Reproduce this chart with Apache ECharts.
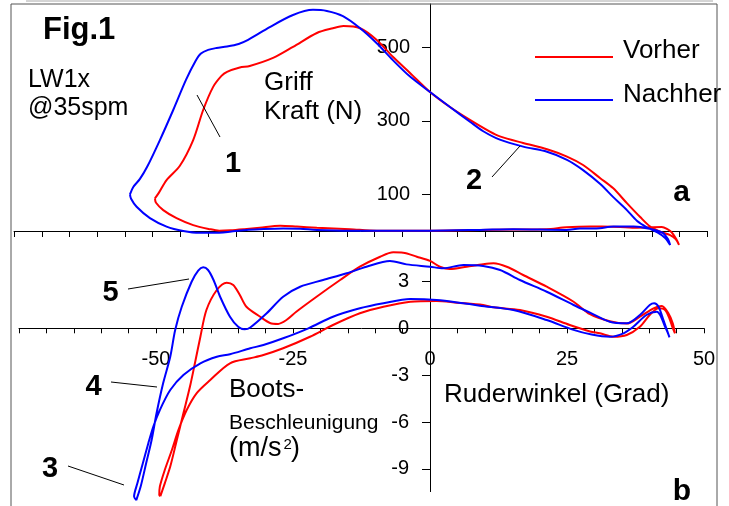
<!DOCTYPE html>
<html>
<head>
<meta charset="utf-8">
<script src="https://cdn.jsdelivr.net/npm/echarts@6.0.0/dist/echarts.min.js"></script>
<style>
html,body{margin:0;padding:0;background:#fff;}
#chart{width:729px;height:506px;}
</style>
</head>
<body>
<div id="chart"></div>
<script>
// Griff-Kraft (N) vs Ruderwinkel (Grad)
const forceVorher = [
[-49.6,89],[-48.9,104],[-47.5,139],[-45.1,178],[-42.7,248],[-40.9,330],[-39.1,393],[-37.6,423],[-36.6,434],[-34.3,446],[-32.5,450],[-28.3,472],[-24.7,502],[-20.4,540],[-17.5,553],[-15.6,559],[-12.6,553],[-9.6,521],[-6.7,475],[-3.6,431],[0,379],[3.6,338],[7.2,303],[10.8,271],[12.6,258],[16.8,240],[21.1,223],[24.7,203],[27.6,180],[30.7,144],[33,117],[35.5,76],[37.9,38],[39.7,12],[41.5,-2],[43.3,-11],[44.3,-22],[44.9,-38],
[44.4,-22],[43.6,-4],[42.8,5],[41.8,11],[39.4,10],[36.5,9],[34.3,11],[31,12],[28.9,12],[24.6,10],[21,5],[15,4],[9,3],[0,1],[-9.6,1],[-14.4,5],[-20.4,9],[-24,12],[-27,14],[-30.7,9],[-33.5,5],[-36,2],[-38,1],[-39.7,5],[-42.7,16],[-45.7,35],[-48.1,57],[-49.4,77],[-49.6,89]
];
const forceNachher = [
[-54.1,100],[-53.5,120],[-52.3,142],[-51,175],[-48.7,248],[-46.3,330],[-44,412],[-42.3,463],[-41.3,484],[-40,494],[-38.5,499],[-36.6,503],[-34.5,510],[-32.8,521],[-28.9,556],[-24.7,589],[-21.1,603],[-18.6,600],[-15.7,586],[-12.6,553],[-9.6,512],[-6.7,466],[-3.6,421],[0,379],[3.6,338],[7.2,298],[9.6,272],[12.6,249],[16.8,230],[21.1,216],[24.7,194],[27.6,166],[30.7,128],[33,93],[35.5,57],[37.3,28],[39.1,10],[41,-4],[42.4,-19],[43.3,-38],
[42.9,-22],[42,-5],[40.5,3],[38.5,9],[36.7,12],[33.1,12],[30,7],[27,7],[24.6,3],[15,5],[9,3],[0,1],[-9.6,1],[-14.4,1],[-20.4,3],[-23.4,6],[-26.5,7],[-30.7,5],[-33.1,3],[-36.1,-2],[-39.1,-5],[-41.5,-5],[-44.5,0],[-47.5,12],[-50.5,35],[-52.9,66],[-53.9,88],[-54.1,100]
];
// Boots-Beschleunigung (m/s2) vs Ruderwinkel (Grad)
const accVorher = [
[-49.2,-10.75],[-48.4,-9.92],[-47.4,-8.85],[-46.2,-7.15],[-45.0,-5.44],[-43.8,-3.73],[-42.9,-2.24],[-41.9,-0.54],[-40.8,1.17],[-38.9,2.45],[-37.1,2.92],[-35.9,2.77],[-34.7,2.13],[-33.5,1.38],[-31.0,0.74],[-29.2,0.34],[-27.7,0.28],[-26.2,0.53],[-24.4,1.06],[-20.7,2.02],[-16.4,3.09],[-12.8,3.94],[-9.1,4.58],[-6.7,4.86],[-4.9,4.84],[-2.4,4.58],[0,4.31],[1.8,3.94],[3.6,3.79],[6.7,3.94],[9.7,4.1],[11.6,4.16],[14.0,3.94],[17.0,3.41],[21.3,2.66],[26.2,1.7],[29.2,0.9],[32.8,0.45],[35.9,0.3],[38.3,0.74],[40.8,1.28],[42.3,1.43],[43.5,0.96],[44.3,0.32],[44.7,-0.32],
[44.2,0.1],[43.8,0.53],[42.9,1.17],[41.7,1.28],[40.1,0.85],[38.3,0.1],[35.9,-0.43],[33.5,-0.54],[31.0,-0.32],[29.2,-0.2],[25.5,0.21],[21.3,0.74],[16.4,1.17],[11.6,1.34],[9.7,1.49],[4.9,1.64],[1.2,1.75],[-3.6,1.7],[-8.5,1.38],[-12.8,0.96],[-17.7,0.21],[-21.9,-0.54],[-26.8,-1.28],[-30.4,-1.71],[-32.8,-1.92],[-36.5,-2.24],[-40.1,-3.31],[-42.6,-4.16],[-44.4,-5.23],[-45.9,-6.5],[-47.1,-7.79],[-48.4,-9.07],[-49.3,-10.13],[-49.4,-10.67],[-49.2,-10.75]
];
const accNachher = [
[-53.6,-11.0],[-52.8,-10.13],[-51.8,-8.64],[-50.8,-7.15],[-49.9,-5.44],[-48.7,-3.52],[-47.4,-1.82],[-46.5,-0.11],[-45.3,1.38],[-43.5,2.98],[-42.3,3.69],[-41.4,3.9],[-40.5,3.73],[-39.5,3.09],[-38.3,2.02],[-36.5,0.74],[-35.0,0.1],[-33.8,-0.06],[-32.8,0.05],[-29.8,0.96],[-26.8,2.02],[-23.7,2.66],[-19.5,3.09],[-15.2,3.52],[-11.6,3.94],[-7.3,4.31],[-4.3,4.09],[0,3.94],[2.4,3.84],[6.1,4.05],[9.7,3.99],[12.8,3.73],[16.4,3.09],[21.3,2.34],[26.2,1.49],[29.2,1.0],[32.8,0.42],[35.9,0.32],[38.3,0.85],[40.1,1.49],[40.9,1.6],[41.7,1.38],[42.6,0.53],[43.7,-0.58],
[43.4,-0.3],[42.9,0.1],[42.0,0.85],[41.4,1.06],[39.5,0.85],[37.1,0.1],[35.3,-0.32],[32.8,-0.54],[29.5,-0.4],[26.2,-0.1],[21.3,0.53],[15.2,1.17],[9.1,1.45],[6.1,1.6],[1.2,1.81],[-3.6,1.87],[-8.5,1.6],[-12.8,1.28],[-17.7,0.74],[-22.2,0],[-26.8,-0.64],[-30.4,-1.07],[-32.8,-1.28],[-36.5,-1.66],[-38.9,-1.82],[-41.9,-2.24],[-45.0,-2.99],[-47.4,-3.95],[-49.3,-5.23],[-50.5,-6.3],[-51.4,-7.36],[-52.4,-8.64],[-53.4,-9.92],[-54.0,-10.77],[-53.6,-11.0]
];
const forceTicks = [100, 300, 500];
const accTicks = [3, 0, -3, -6, -9];
const angleLabels = [-50, -25, 0, 25, 50];
const seriesNames = ['Vorher', 'Nachher'];
const seriesColors = ['#ff0000', '#0000ff'];

const FONT = '"Liberation Sans", Arial, sans-serif';
const chart = echarts.init(document.getElementById('chart'), null, {renderer: 'canvas'});

function txt(text, x, y, size, bold, align) {
  const a = align || 'left';
  return {
    type: 'text', x: x, y: y, z: 10,
    style: {
      text: text, fill: '#000',
      font: (bold ? 'bold ' : '') + size + 'px ' + FONT,
      textAlign: a, textVerticalAlign: 'middle', align: a, verticalAlign: 'middle'
    }
  };
}
function ln(x1, y1, x2, y2, color, w) {
  return {type: 'line', z: 10, shape: {x1: x1, y1: y1, x2: x2, y2: y2},
    style: {stroke: color || '#000', lineWidth: w || 1}};
}

const axisLineStyle = {color: '#000', width: 1};
const labelStyle = {fontSize: 20, color: '#000', fontFamily: FONT};

// grid geometry (pixels)
const G0 = {left: 14.05, width: 693.25, top: 4, height: 227};
const G1 = {left: 19, width: 685, top: 230, height: 261.6};
const zeroXpx = 430;          // pixel position of angle 0
const zeroAccPx = 328.3;      // pixel position of acceleration 0

const option = {
  animation: false,
  backgroundColor: '#fff',
  textStyle: {fontFamily: FONT},
  grid: [
    Object.assign({containLabel: false, outerBoundsMode: 'none'}, G0),
    Object.assign({containLabel: false, outerBoundsMode: 'none'}, G1)
  ],
  xAxis: [
    {gridIndex: 0, type: 'value', min: -75, max: 50, interval: 5, position: 'bottom',
     axisLine: {onZero: false, lineStyle: axisLineStyle},
     axisTick: {show: true, length: 6, lineStyle: axisLineStyle},
     axisLabel: {show: false}, splitLine: {show: false}},
    {gridIndex: 1, type: 'value', min: -75, max: 50, interval: 5, position: 'bottom',
     offset: -(G1.top + G1.height - zeroAccPx),
     axisLine: {onZero: false, lineStyle: axisLineStyle},
     axisTick: {show: true, length: 5, lineStyle: axisLineStyle},
     axisLabel: Object.assign({customValues: angleLabels, margin: 21}, labelStyle),
     splitLine: {show: false}}
  ],
  yAxis: [
    {gridIndex: 0, type: 'value', min: 0, max: 619, position: 'left',
     offset: -(zeroXpx - G0.left),
     axisLine: {show: true, onZero: false, lineStyle: axisLineStyle},
     axisTick: {show: true, customValues: forceTicks, length: 8, lineStyle: axisLineStyle},
     axisLabel: Object.assign({customValues: forceTicks, margin: 20}, labelStyle),
     splitLine: {show: false}},
    {gridIndex: 1, type: 'value', min: -10.45, max: 6.29, position: 'left',
     offset: -(zeroXpx - G1.left),
     axisLine: {show: true, onZero: false, lineStyle: axisLineStyle},
     axisTick: {show: true, customValues: accTicks, length: 8, lineStyle: axisLineStyle},
     axisLabel: Object.assign({customValues: accTicks, margin: 21}, labelStyle),
     splitLine: {show: false}}
  ],
  series: [
    {type: 'line', name: seriesNames[0], xAxisIndex: 0, yAxisIndex: 0, data: forceVorher},
    {type: 'line', name: seriesNames[1], xAxisIndex: 0, yAxisIndex: 0, data: forceNachher},
    {type: 'line', name: seriesNames[0], xAxisIndex: 1, yAxisIndex: 1, data: accVorher},
    {type: 'line', name: seriesNames[1], xAxisIndex: 1, yAxisIndex: 1, data: accNachher}
  ].map(function (s, i) {
    const c = seriesColors[i % 2];
    return Object.assign(s, {
      showSymbol: false, symbol: 'none', smooth: 0.3, clip: false,
      lineStyle: {color: c, width: 2}, itemStyle: {color: c}
    });
  }),
  graphic: [
    {type: 'rect', z: 1, shape: {x: 11, y: 4, width: 706, height: 520},
     style: {fill: 'none', stroke: '#555', lineWidth: 1}},
    ln(26, 1, 713, 1, '#aaa', 1),
    txt('Fig.1', 43, 30, 31, true),
    txt('LW1x', 28, 80.5, 25, false),
    txt('@35spm', 28, 108.3, 25, false),
    txt('Griff', 264, 83, 26, false),
    txt('Kraft (N)', 264, 111.5, 26, false),
    txt('1', 233, 164, 29, true, 'center'),
    txt('2', 474, 181, 29, true, 'center'),
    txt('a', 681.5, 192.5, 30, true, 'center'),
    txt('b', 682, 492, 30, true, 'center'),
    txt('3', 50, 469, 29, true, 'center'),
    txt('4', 93.5, 387, 29, true, 'center'),
    txt('5', 110.5, 292.5, 29, true, 'center'),
    txt('Boots-', 229, 390, 26, false),
    txt('Beschleunigung', 229, 423, 21, false),
    txt('(m/s', 229, 449, 27, false),
    txt('2', 283.5, 445, 15, false),
    txt(')', 291, 449, 27, false),
    txt('Ruderwinkel (Grad)', 444, 394.5, 26, false),
    ln(535, 57, 613, 57, seriesColors[0], 2),
    ln(535, 100, 613, 100, seriesColors[1], 2),
    txt(seriesNames[0], 623, 50.5, 26, false),
    txt(seriesNames[1], 623, 94.5, 26, false),
    ln(197, 95, 220, 137),
    ln(492, 177, 520, 146),
    ln(128, 289, 189, 279),
    ln(111, 382, 157, 387),
    ln(68, 466, 124, 485)
  ]
};
chart.setOption(option);
</script>
</body>
</html>
